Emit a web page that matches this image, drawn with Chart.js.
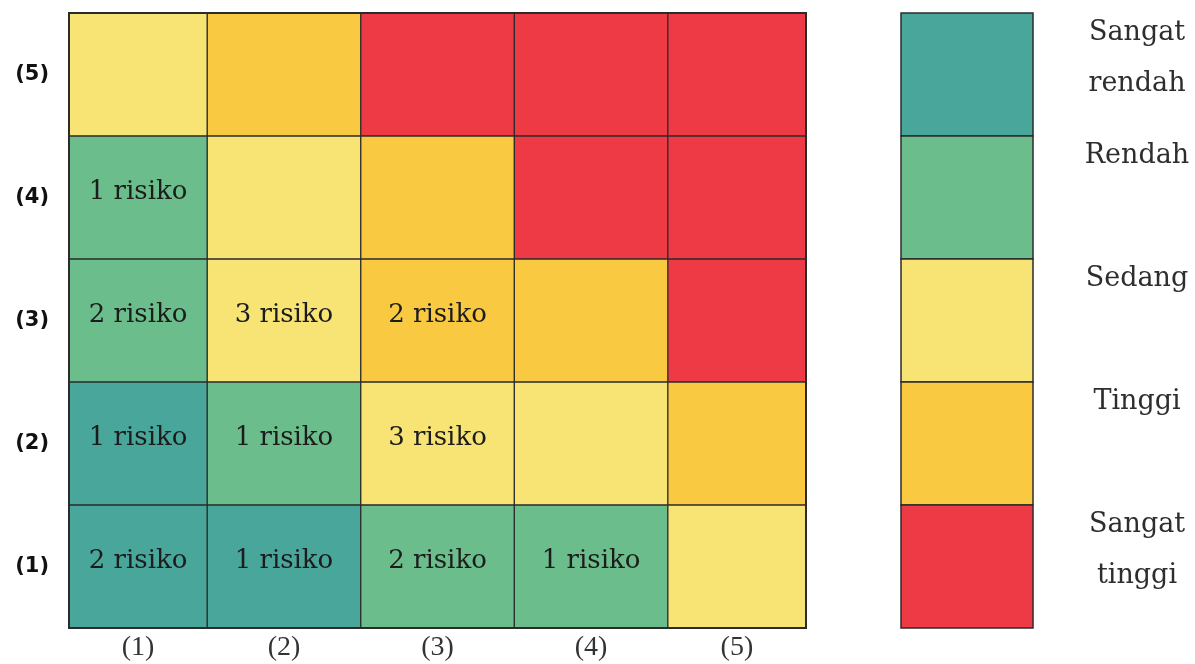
<!DOCTYPE html>
<html>
<head>
<meta charset="utf-8">
<script src="https://cdn.jsdelivr.net/npm/chart.js@4"></script>
<style>
  html, body { margin: 0; padding: 0; background: #ffffff; }
  #wrap { width: 1195px; height: 664px; position: relative; }
</style>
</head>
<body>
<div id="wrap"><canvas id="matrix"></canvas></div>
<script>
// Dampak (rows, top to bottom) and kemungkinan (columns, left to right)
const rowLabels = ['(5)', '(4)', '(3)', '(2)', '(1)'];
const colLabels = ['(1)', '(2)', '(3)', '(4)', '(5)'];

// Risk levels, lowest to highest
const levelNames = [['Sangat', 'rendah'], ['Rendah'], ['Sedang'], ['Tinggi'], ['Sangat', 'tinggi']];
const levelColors = ['#48a69b', '#6bbd8b', '#f8e474', '#f9c942', '#ee3a44'];

// Level index of each cell (rows top to bottom, columns left to right)
const levelGrid = [
  [2, 3, 4, 4, 4],
  [1, 2, 3, 4, 4],
  [1, 2, 3, 3, 4],
  [0, 1, 2, 2, 3],
  [0, 0, 1, 1, 2]
];

// Number of risks in each cell
const riskCounts = [
  [0, 0, 0, 0, 0],
  [1, 0, 0, 0, 0],
  [2, 3, 2, 0, 0],
  [1, 1, 3, 0, 0],
  [2, 1, 2, 1, 0]
];

const LINE = '#2b2b2b';

// One floating-bar dataset per column; each bar spans that column
const datasets = colLabels.map((_, c) => ({
  label: colLabels[c],
  data: rowLabels.map(() => [c, c + 1]),
  backgroundColor: levelGrid.map(row => levelColors[row[c]]),
  borderColor: LINE,
  borderWidth: 1,
  borderSkipped: false,
  grouped: false,
  categoryPercentage: 1,
  barPercentage: 1,
  clip: 0
}));

// Outer frame of the matrix
const framePlugin = {
  id: 'frame',
  afterDatasetsDraw(chart) {
    const a = chart.chartArea, ctx = chart.ctx;
    ctx.save();
    ctx.strokeStyle = LINE;
    ctx.lineWidth = 2;
    ctx.strokeRect(a.left, a.top, a.right - a.left, a.bottom - a.top);
    ctx.restore();
  }
};

// "n risiko" text in the visible middle of each cell
const cellTextPlugin = {
  id: 'cellText',
  afterDatasetsDraw(chart) {
    const a = chart.chartArea, ctx = chart.ctx;
    ctx.save();
    ctx.font = '26px "DejaVu Serif"';
    ctx.fillStyle = '#1c1c1c';
    ctx.textAlign = 'center';
    ctx.textBaseline = 'middle';
    chart.data.datasets.forEach((ds, c) => {
      const meta = chart.getDatasetMeta(c);
      meta.data.forEach((bar, r) => {
        const n = riskCounts[r][c];
        if (!n) return;
        const left = Math.max(Math.min(bar.x, bar.base), a.left);
        const right = Math.min(Math.max(bar.x, bar.base), a.right);
        ctx.fillText(n + ' risiko', (left + right) / 2, bar.y - 5);
      });
    });
    ctx.restore();
  }
};

// Colour key to the right of the matrix, rows aligned with the matrix rows
const keyPlugin = {
  id: 'levelKey',
  afterDraw(chart) {
    const a = chart.chartArea, ctx = chart.ctx;
    const y = chart.scales.y;
    const band = (y.bottom - y.top) / rowLabels.length;
    const x0 = a.right + 95, w = 132;
    ctx.save();
    levelColors.forEach((col, i) => {
      const top = y.getPixelForValue(i) - band / 2;
      ctx.fillStyle = col;
      ctx.fillRect(x0, top, w, band);
      ctx.strokeStyle = LINE;
      ctx.lineWidth = 1.5;
      ctx.strokeRect(x0, top, w, band);
      ctx.font = '27px "DejaVu Serif"';
      ctx.fillStyle = '#2e2e2e';
      ctx.textAlign = 'center';
      ctx.textBaseline = 'middle';
      levelNames[i].forEach((line, k) => {
        ctx.fillText(line, x0 + w + 104, top + 20 + k * 51);
      });
    });
    ctx.restore();
  }
};

new Chart(document.getElementById('matrix'), {
  type: 'bar',
  data: { labels: rowLabels, datasets },
  options: {
    indexAxis: 'y',
    responsive: true,
    maintainAspectRatio: false,
    animation: false,
    layout: { autoPadding: false, padding: { top: 13, right: 389, bottom: 0, left: 0 } },
    plugins: { legend: { display: false }, tooltip: { enabled: false } },
    scales: {
      x: {
        type: 'linear',
        min: 0.1,
        max: 4.9,
        grid: { display: false, drawTicks: false },
        border: { display: false },
        afterBuildTicks(scale) {
          scale.ticks = colLabels.map((_, c) => ({
            value: (Math.max(c, scale.min) + Math.min(c + 1, scale.max)) / 2
          }));
        },
        afterFit(scale) {
          scale.height = 36;
          scale.paddingLeft = 0;
          scale.paddingRight = 0;
        },
        ticks: {
          autoSkip: false,
          maxRotation: 0,
          padding: 3,
          color: '#333333',
          font: { family: '"Liberation Serif"', size: 28 },
          callback: (v, i) => colLabels[i]
        }
      },
      y: {
        type: 'category',
        grid: { display: false, drawTicks: false },
        border: { display: false },
        afterFit(scale) {
          scale.width = 69;
          scale.paddingTop = 0;
          scale.paddingBottom = 0;
        },
        ticks: {
          padding: 20,
          color: '#111111',
          font: { family: '"DejaVu Sans"', size: 21, weight: 'bold' }
        }
      }
    }
  },
  plugins: [framePlugin, cellTextPlugin, keyPlugin]
});
</script>
</body>
</html>
